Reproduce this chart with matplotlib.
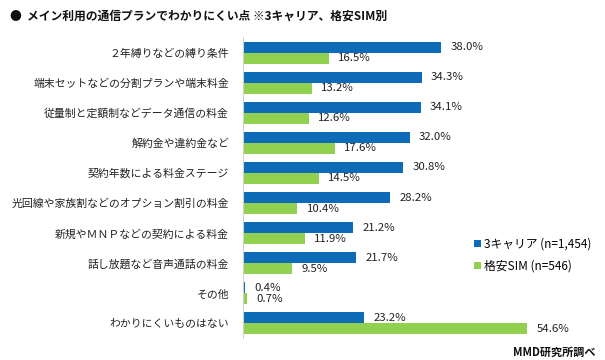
import matplotlib
matplotlib.use('Agg')
import matplotlib.pyplot as plt
import numpy as np

plt.rcParams['font.family'] = ['Noto Sans CJK JP', 'DejaVu Sans']

# data
categories = [
    '２年縛りなどの縛り条件',
    '端末セットなどの分割プランや端末料金',
    '従量制と定額制などデータ通信の料金',
    '解約金や違約金など',
    '契約年数による料金ステージ',
    '光回線や家族割などのオプション割引の料金',
    '新規やＭＮＰなどの契約による料金',
    '話し放題など音声通話の料金',
    'その他',
    'わかりにくいものはない',
]
carrier3 = [38.0, 34.3, 34.1, 32.0, 30.8, 28.2, 21.2, 21.7, 0.4, 23.2]
mvno = [16.5, 13.2, 12.6, 17.6, 14.5, 10.4, 11.9, 9.5, 0.7, 54.6]
series_labels = ['3キャリア (n=1,454)', '格安SIM (n=546)']

blue = '#0E6BB8'
green = '#92D050'

fig = plt.figure(figsize=(6.05, 3.6), dpi=100)
ax = fig.add_axes([243 / 605, 1 - 338.5 / 360, 312.6 / 605, 301 / 360])

y = np.arange(len(categories))
h = 0.365
b1 = ax.barh(y - h / 2, carrier3, height=h, color=blue, label=series_labels[0])
b2 = ax.barh(y + h / 2, mvno, height=h, color=green, label=series_labels[1])

# value labels next to each bar
for yi, v in zip(y, carrier3):
    ax.text(v + 1.8, yi - h / 2, f'{v:.1f}%', va='center', ha='left', fontsize=8.2, color='#222222')
for yi, v in zip(y, mvno):
    ax.text(v + 1.8, yi + h / 2, f'{v:.1f}%', va='center', ha='left', fontsize=8.2, color='#222222')

ax.set_ylim(len(categories) - 0.5, -0.5)
ax.set_xlim(0, 60)
ax.set_yticks(y)
ax.set_yticklabels(categories, fontsize=7.8, color='#222222')
ax.tick_params(axis='y', length=0, pad=10)
ax.set_xticks([])
for s in ['top', 'right', 'bottom']:
    ax.spines[s].set_visible(False)
ax.spines['left'].set_color('#d0d0d0')
ax.spines['left'].set_linewidth(0.8)

leg = fig.legend(handles=[b1, b2], labels=series_labels, loc='upper left',
                 bbox_to_anchor=(463 / 605, 1 - 227 / 360), frameon=False,
                 fontsize=8.5, handlelength=0.6, handleheight=0.6,
                 handletextpad=0.3, labelspacing=0.75)

fig.text(10 / 605, 1 - 16 / 360, '●  メイン利用の通信プランでわかりにくい点 ※3キャリア、格安SIM別',
         fontsize=8.5, fontweight='bold', va='center', ha='left', color='#111111')
fig.text(596 / 605, 1 - 352 / 360, 'MMD研究所調べ', fontsize=8, fontweight='bold',
         va='center', ha='right', color='#111111')

fig.savefig('out.png', dpi=100)
